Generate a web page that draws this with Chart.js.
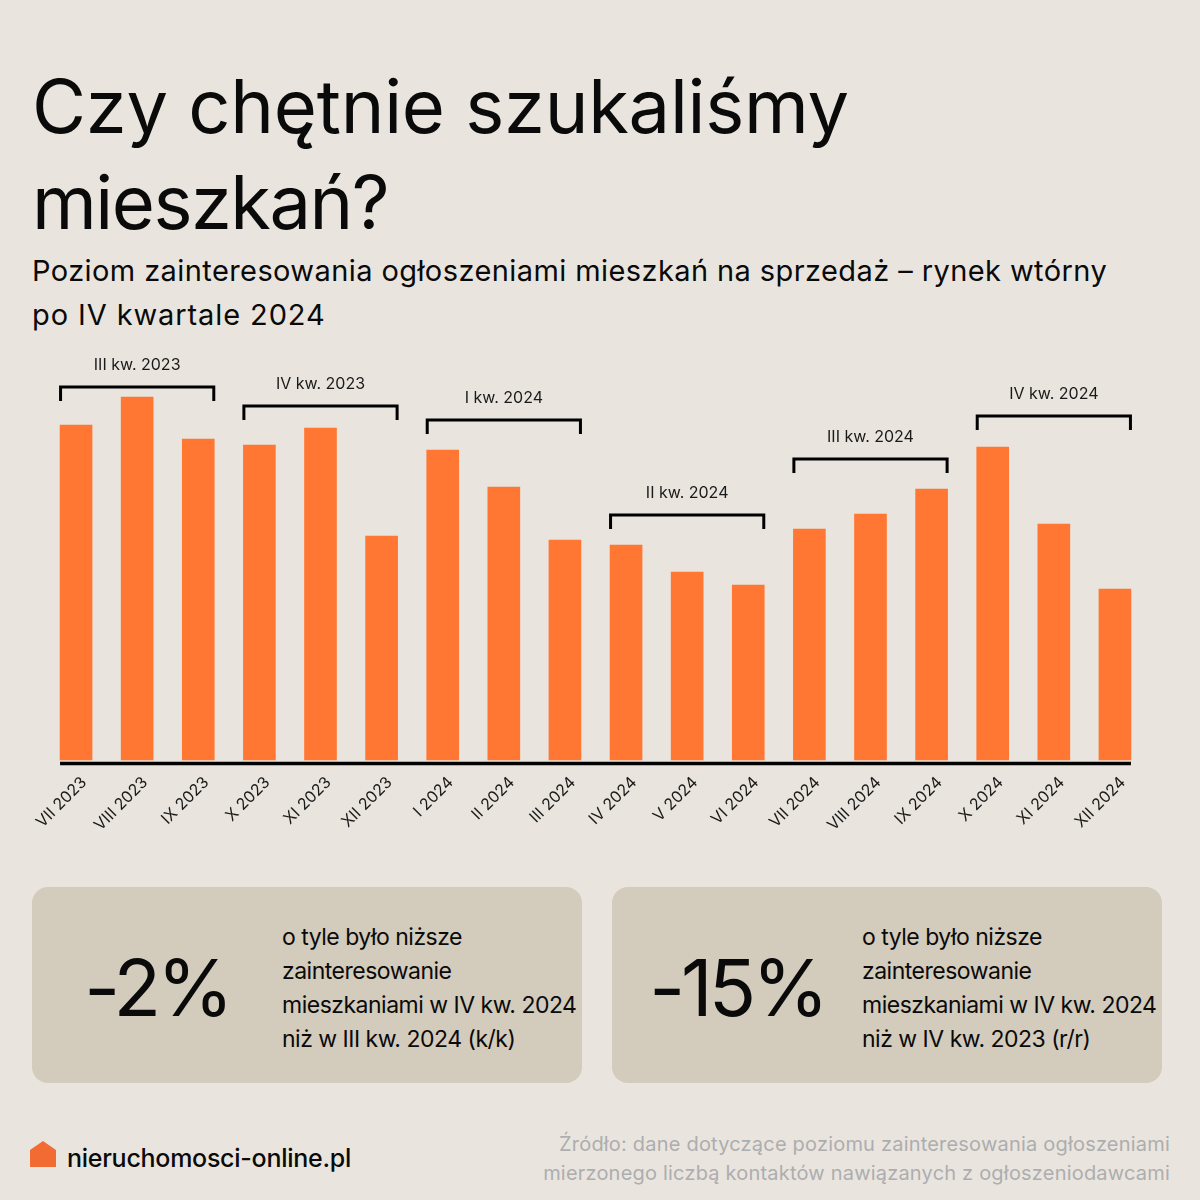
<!DOCTYPE html>
<html lang="pl">
<head>
<meta charset="utf-8">
<title>Czy chętnie szukaliśmy mieszkań?</title>
<script src="https://cdn.jsdelivr.net/npm/chart.js@4"></script>
<style>
	html, body { margin: 0; padding: 0; }
	body { width: 1200px; height: 1200px; position: relative; overflow: hidden; background: #E9E5DE; color: #0A0A0A; font-family: Inter, sans-serif; }
	.abs { position: absolute; white-space: nowrap; }
	#chart-wrap { position: absolute; left: 0; top: 340px; width: 1200px; height: 520px; }
	h1 { margin: 0; left: 32px; top: 58px; font-size: 74px; line-height: 96px; font-weight: 400; letter-spacing: -0.25px; }
	h1 span { letter-spacing: -1.5px; }
	.sub { left: 32px; top: 249px; font-size: 29px; line-height: 44px; font-weight: 400; letter-spacing: 0.41px; }
	.sub span { letter-spacing: 0.9px; }
	.box { position: absolute; top: 887px; width: 550px; height: 196px; border-radius: 16px; background: #D3CBBB; }
	.big { position: absolute; top: 3px; height: 196px; line-height: 196px; font-size: 78px; letter-spacing: -4px; text-align: center; }
	.desc { position: absolute; left: 250px; top: 33px; font-size: 23px; line-height: 34px; letter-spacing: -0.5px; white-space: nowrap; }
	.logo { left: 67px; top: 1142px; font-size: 25px; line-height: 32px; font-weight: 500; letter-spacing: -0.27px; }
	.src { right: 30px; top: 1130px; font-size: 20px; line-height: 29px; letter-spacing: 0.2px; text-align: right; color: #ADADB0; }
	svg.home { position: absolute; left: 30px; top: 1141px; }
</style>
</head>
<body>
<h1 class="abs">Czy chętnie szukaliśmy<br><span>mieszkań?</span></h1>
<div class="abs sub">Poziom zainteresowania ogłoszeniami mieszkań na sprzedaż – rynek wtórny<br><span>po IV kwartale 2024</span></div>

<div id="chart-wrap"><canvas id="chart"></canvas></div>

<div class="box" style="left:32px">
	<div class="big" style="left:0;width:250px">-2%</div>
	<div class="desc">o tyle było niższe<br>zainteresowanie<br>mieszkaniami w IV kw. 2024<br>niż w III kw. 2024 (k/k)</div>
</div>
<div class="box" style="left:612px">
	<div class="big" style="left:0;width:250px">-15%</div>
	<div class="desc">o tyle było niższe<br>zainteresowanie<br>mieszkaniami w IV kw. 2024<br>niż w IV kw. 2023 (r/r)</div>
</div>

<svg class="home" width="26" height="26" viewBox="0 0 26 26"><path d="M0 9 L13 0 L26 9 L26 26 L0 26 Z" fill="#F26B32"/></svg>
<div class="abs logo">nieruchomosci-online.pl</div>
<div class="abs src">Źródło: dane dotyczące poziomu zainteresowania ogłoszeniami<br>mierzonego liczbą kontaktów nawiązanych z ogłoszeniodawcami</div>

<script>
	"use strict";

	const months = ['VII 2023', 'VIII 2023', 'IX 2023', 'X 2023', 'XI 2023', 'XII 2023', 'I 2024', 'II 2024', 'III 2024', 'IV 2024', 'V 2024', 'VI 2024', 'VII 2024', 'VIII 2024', 'IX 2024', 'X 2024', 'XI 2024', 'XII 2024'];
	const interest = [335, 363, 321, 315, 332, 224, 310, 273, 220, 215, 188, 175, 231, 246, 271, 313, 236, 171];
	const quarters = ['III kw. 2023', 'IV kw. 2023', 'I kw. 2024', 'II kw. 2024', 'III kw. 2024', 'IV kw. 2024'];
	const bracketLevels = [373, 354, 340, 245, 301, 344];

	// quarter brackets and the base line sit on the same scales as the bars
	const bracket_plugin = {
		id: 'quarter_brackets',
		afterDatasetsDraw: (chart) => {
			const ctx = chart.ctx;
			const bars = chart.getDatasetMeta(0).data;
			const y_scale = chart.scales.y;

			ctx.save();
			ctx.strokeStyle = '#000000';
			ctx.lineWidth = 3;
			ctx.lineCap = 'butt';
			ctx.lineJoin = 'miter';

			quarters.forEach(function (name, i) {
				const first = bars[i * 3];
				const last = bars[i * 3 + 2];
				const left = first.x - first.width / 2 + 0.5;
				const right = last.x + last.width / 2 - 0.5;
				const y = y_scale.getPixelForValue(bracketLevels[i]);

				ctx.beginPath();
				ctx.moveTo(left, y + 14);
				ctx.lineTo(left, y);
				ctx.lineTo(right, y);
				ctx.lineTo(right, y + 14);
				ctx.stroke();

				ctx.fillStyle = '#1A1A1A';
				ctx.font = '16px Inter';
				ctx.textAlign = 'center';
				ctx.textBaseline = 'middle';
				ctx.fillText(name, (left + right) / 2, y - 21.5);
			});

			const a = bars[0], z = bars[bars.length - 1];
			const base_y = y_scale.getPixelForValue(-3.5);
			ctx.lineWidth = 3.4;
			ctx.beginPath();
			ctx.moveTo(a.x - a.width / 2, base_y);
			ctx.lineTo(z.x + z.width / 2, base_y);
			ctx.stroke();
			ctx.restore();
		}
	};

	const ctx = document.getElementById('chart').getContext('2d');
	new Chart(ctx, {
		type: 'bar',
		data: {
			labels: months,
			datasets: [{
				data: interest,
				backgroundColor: '#FF7733',
				borderWidth: 0,
				barThickness: 32
			}]
		},
		options: {
			responsive: true,
			maintainAspectRatio: false,
			animation: false,
			layout: { padding: { left: 45.5, right: 54.5, top: 20, bottom: 0 } },
			plugins: { legend: { display: false }, tooltip: { enabled: false } },
			scales: {
				x: {
					grid: { display: false, drawTicks: false },
					border: { display: false },
					ticks: {
						autoSkip: false,
						minRotation: 45,
						maxRotation: 45,
						labelOffset: 8,
						padding: 10,
						color: '#1A1A1A',
						font: { family: 'Inter', size: 16 }
					},
					afterFit: function (scale) { scale.height = 97; }
				},
				y: {
					display: false,
					min: -3,
					max: 400
				}
			}
		},
		plugins: [bracket_plugin]
	});
</script>
</body>
</html>
